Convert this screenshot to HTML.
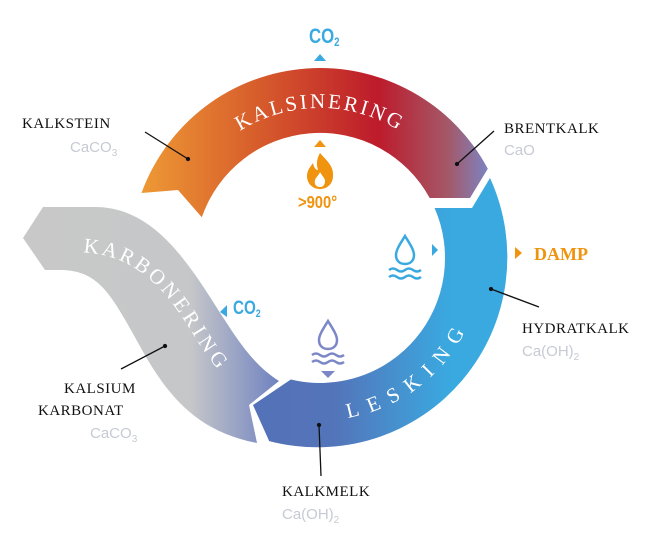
<!DOCTYPE html>
<html><head><meta charset="utf-8"><style>
html,body{margin:0;padding:0;background:#fff;}
svg{display:block}
.lbl{font-family:"Liberation Serif",serif;font-size:15px;fill:#111;letter-spacing:0.5px}
.sub{font-family:"Liberation Sans",sans-serif;font-size:15px;fill:#c6cad3}
.co{font-family:"Liberation Sans Narrow","Liberation Sans",sans-serif;font-weight:bold;fill:#3aa9e0}
.band{font-family:"Liberation Serif",serif;font-size:21px;fill:#fff}
</style></head><body>
<svg width="656" height="534" viewBox="0 0 656 534" xmlns="http://www.w3.org/2000/svg">
<defs>
<linearGradient id="gk" x1="140" y1="0" x2="490" y2="0" gradientUnits="userSpaceOnUse">
<stop offset="0" stop-color="#ee9a35"/><stop offset="0.35" stop-color="#d65a2b"/><stop offset="0.68" stop-color="#bd1b2b"/><stop offset="0.88" stop-color="#a45868"/><stop offset="1" stop-color="#7a86c6"/></linearGradient>
<linearGradient id="gl" x1="270" y1="0" x2="450" y2="0" gradientUnits="userSpaceOnUse">
<stop offset="0" stop-color="#5472b8"/><stop offset="0.35" stop-color="#5474b9"/><stop offset="1" stop-color="#3aa9e0"/></linearGradient>
<linearGradient id="gc" x1="20" y1="0" x2="282" y2="0" gradientUnits="userSpaceOnUse">
<stop offset="0" stop-color="#c8c8c8"/><stop offset="0.65" stop-color="#c6c7c9"/><stop offset="1" stop-color="#6d80c0"/></linearGradient>
<path id="pk" d="M227.6,139.8 A150,150 0 0 1 412.3,139.8"/>
<path id="pl" d="M326,420 A162,162 0 0 0 474,310"/>
<path id="pc" d="M70,245 C140,240 175,290 200,330 C222,366 245,392 285,420"/>
</defs>

<path d="M43,207 L95,207 C160,207 195,275 228,325 C248,356 262,370 279,381 L249,405 L257,443 C200,432 170,400 142,350 C112,296 100,270 60,270 L45,270 L23,238 Z" fill="url(#gc)"/>
<path d="M141.5,193 A190,190 0 0 1 487.8,168.8 L470,198 L429.7,198 A125,125 0 0 0 201.8,217.3 L178,190 Z" fill="url(#gk)"/>
<path d="M434.6,208 L472,208 L490,178 A190,190 0 0 1 269.2,441.1 L253,405 L290.8,379.5 A125,125 0 0 0 434.6,208 Z" fill="url(#gl)"/>

<text class="band" letter-spacing="2.5"><textPath href="#pk" startOffset="50%" text-anchor="middle">KALSINERING</textPath></text>
<text class="band" letter-spacing="10"><textPath href="#pl" startOffset="52%" text-anchor="middle">LESKING</textPath></text>
<text class="band" letter-spacing="4" dy="8"><textPath href="#pc" startOffset="14">KARBONERING</textPath></text>

<g stroke="#111" stroke-width="1.3" fill="#111">
<line x1="145" y1="132" x2="188" y2="159"/><circle cx="188" cy="159" r="1.5"/>
<line x1="494" y1="131" x2="457" y2="164"/><circle cx="457" cy="164" r="1.5"/>
<line x1="539" y1="307" x2="491" y2="289"/><circle cx="491" cy="289" r="1.5"/>
<line x1="121" y1="369" x2="165" y2="346"/><circle cx="165" cy="346" r="1.5"/>
<line x1="321" y1="476" x2="319" y2="425"/><circle cx="319" cy="425" r="1.5"/>
</g>

<text class="lbl" x="22" y="128">KALKSTEIN</text>
<text class="sub" x="70" y="152">CaCO<tspan font-size="10" dy="4">3</tspan></text>
<text class="lbl" x="504" y="133">BRENTKALK</text>
<text class="sub" x="504" y="155">CaO</text>
<text class="lbl" x="522" y="333">HYDRATKALK</text>
<text class="sub" x="522" y="356">Ca(OH)<tspan font-size="10" dy="4">2</tspan></text>
<text class="lbl" x="64" y="393">KALSIUM</text>
<text class="lbl" x="38" y="415">KARBONAT</text>
<text class="sub" x="90" y="438">CaCO<tspan font-size="10" dy="4">3</tspan></text>
<text class="lbl" x="282" y="496">KALKMELK</text>
<text class="sub" x="282" y="519">Ca(OH)<tspan font-size="10" dy="4">2</tspan></text>

<g transform="translate(309,43) scale(0.8,1)"><text class="co" x="0" y="0" font-size="21">CO<tspan font-size="12" dy="3">2</tspan></text></g>
<polygon points="314,61 326,61 320,54" fill="#3aa9e0"/>
<polygon points="314,147 326,147 320,140" fill="#f0940f"/>
<path d="M320,153 C326,160 334,166 333,176 C333,184 327,189 320,189 C313,189 307,184 307,176 C307,170 311,166 313,163 C314,168 316,170 318,170 C316,164 317,158 320,153 Z" fill="#f0940f"/>
<path d="M320,187 C316,187 314,184 315,180 C316,177 319,175 320,172 C322,176 325,178 325,181 C325,185 323,187 320,187 Z" fill="#fff"/>
<g transform="translate(298,208) scale(0.82,1)"><text x="0" y="0" font-family="Liberation Sans,sans-serif" font-weight="bold" font-size="18" fill="#f0940f">&gt;900°</text></g>

<path d="M405,236 C400,244 396,250 396,255 C396,261 400,264 405,264 C410,264 414,261 414,255 C414,250 410,244 405,236 Z" fill="none" stroke="#3aa9e0" stroke-width="2.5"/>
<path d="M389,270 q4,-3 8,0 t8,0 t8,0 t8,0 M389,277 q4,-3 8,0 t8,0 t8,0 t8,0" fill="none" stroke="#3aa9e0" stroke-width="2.5"/>
<polygon points="432,244 432,256 438,250" fill="#3aa9e0"/>
<polygon points="515,247 515,259 522,253" fill="#f0940f"/>
<text x="534" y="260" font-family="Liberation Serif,serif" font-weight="bold" font-size="18" fill="#f0940f">DAMP</text>

<polygon points="220,312 227,305 227,317" fill="#3aa9e0"/>
<g transform="translate(233,314) scale(0.8,1)"><text class="co" x="0" y="0" font-size="19">CO<tspan font-size="11" dy="3">2</tspan></text></g>

<path d="M328,321 C323,329 319,335 319,340 C319,346 323,349 328,349 C333,349 337,346 337,340 C337,335 333,329 328,321 Z" fill="none" stroke="#7b87c6" stroke-width="2.5"/>
<path d="M312,355 q4,-3 8,0 t8,0 t8,0 t8,0 M312,362 q4,-3 8,0 t8,0 t8,0 t8,0" fill="none" stroke="#7b87c6" stroke-width="2.5"/>
<polygon points="321,371 335,371 328,378" fill="#7b87c6"/>
</svg>
</body></html>
